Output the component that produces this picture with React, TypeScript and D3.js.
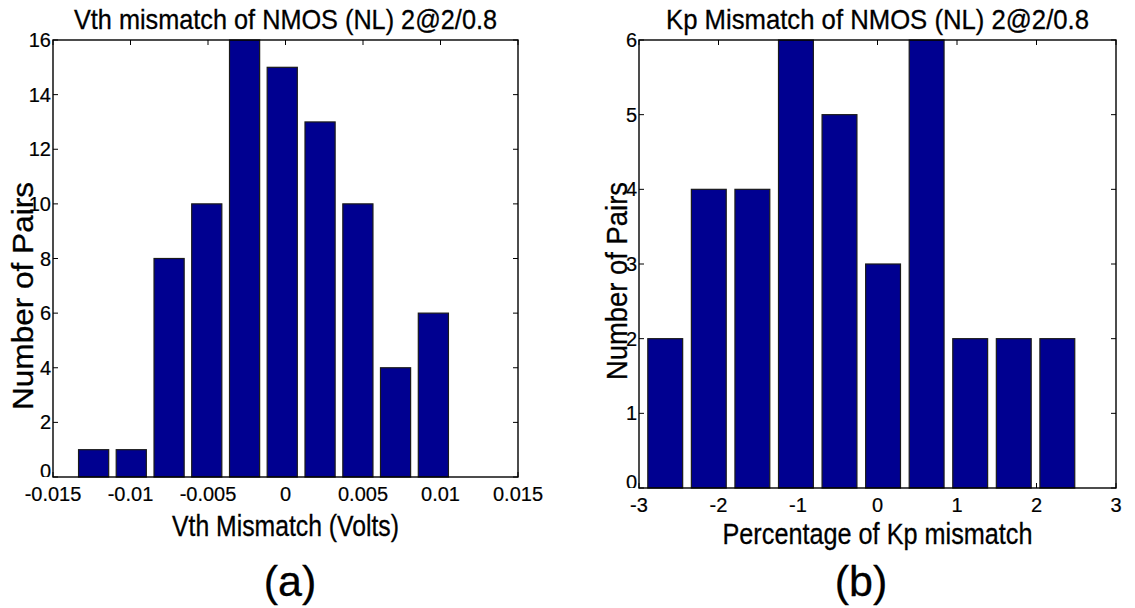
import React from "react";
import * as d3 from "d3";

// Histogram of threshold-voltage mismatch (bin centres in volts, counts of pairs)
const vthCenters = [-0.01238, -0.00995, -0.00751, -0.00508, -0.00264, -0.00021, 0.00223, 0.00467, 0.0071, 0.00954];
const vthCounts = [1, 1, 8, 10, 16, 15, 13, 10, 4, 6];
const vthXTicks = [-0.015, -0.01, -0.005, 0, 0.005, 0.01, 0.015];
const vthXTickLabels = ["-0.015", "-0.01", "-0.005", "0", "0.005", "0.01", "0.015"];
const vthYTicks = [0, 2, 4, 6, 8, 10, 12, 14, 16];

// Histogram of Kp mismatch (bin centres in percent, counts of pairs)
const kpCenters = [-2.67, -2.122, -1.574, -1.026, -0.478, 0.07, 0.618, 1.166, 1.714, 2.262];
const kpCounts = [2, 4, 4, 6, 5, 3, 6, 2, 2, 2];
const kpXTicks = [-3, -2, -1, 0, 1, 2, 3];
const kpXTickLabels = ["-3", "-2", "-1", "0", "1", "2", "3"];
const kpYTicks = [0, 1, 2, 3, 4, 5, 6];

const FONT = "'Liberation Sans', Arial, Helvetica, sans-serif";
const BAR_FILL = "#000090";
const TICK_LEN = 5;

type PanelProps = {
  id: string;
  centers: number[];
  counts: number[];
  xDomain: [number, number];
  yDomain: [number, number];
  xTicks: number[];
  xTickLabels: string[];
  yTicks: number[];
  box: { left: number; right: number; top: number; bottom: number };
  title: string;
  titleY: number;
  titleWidth: number;
  xLabel: string;
  xLabelY: number;
  xLabelWidth: number;
  yLabel: string;
  yLabelX: number;
  yLabelCenter: number;
  yLabelWidth: number;
  caption: string;
  captionX: number;
  captionY: number;
};

function Panel(p: PanelProps) {
  const { left, right, top, bottom } = p.box;
  const x = d3.scaleLinear().domain(p.xDomain).range([left, right]);
  const y = d3.scaleLinear().domain(p.yDomain).range([bottom, top]);
  const binW = (p.centers[1] - p.centers[0]) * 0.8;
  const cx = (left + right) / 2;
  return (
    <g>
      <defs>
        <clipPath id={`above-${p.id}`}>
          <rect x={0} y={0} width={1135} height={bottom} />
        </clipPath>
      </defs>
      {/* frame and ticks (drawn beneath the bars) */}
      <rect x={left} y={top} width={right - left} height={bottom - top} fill="#fff" />
      <g stroke="#000" strokeWidth={1}>
        {p.xTicks.map((t) => (
          <g key={`xt${t}`}>
            <line x1={x(t)} x2={x(t)} y1={bottom} y2={bottom - TICK_LEN} />
            <line x1={x(t)} x2={x(t)} y1={top} y2={top + TICK_LEN} />
          </g>
        ))}
        {p.yTicks.map((t) => (
          <g key={`yt${t}`}>
            <line x1={left} x2={left + TICK_LEN} y1={y(t)} y2={y(t)} />
            <line x1={right} x2={right - TICK_LEN} y1={y(t)} y2={y(t)} />
          </g>
        ))}
      </g>
      {/* histogram bars */}
      <g>
        {p.centers.map((c, i) => (
          <rect
            key={i}
            x={x(c - binW / 2)}
            y={y(p.counts[i])}
            width={x(c + binW / 2) - x(c - binW / 2)}
            height={y(0) - y(p.counts[i])}
            fill={BAR_FILL}
            stroke="#1a1a1a"
            strokeWidth={1.2}
          />
        ))}
      </g>
      <rect x={left} y={top} width={right - left} height={bottom - top} fill="none" stroke="#000" strokeWidth={1.4} />
      {/* tick labels */}
      <g fontFamily={FONT} fontSize={20} fill="#000" stroke="#000" strokeWidth={0.2}>
        {p.xTicks.map((t, i) => (
          <text key={`xl${t}`} x={x(t)} y={bottom + 24} textAnchor="middle">
            {p.xTickLabels[i]}
          </text>
        ))}
        <g clipPath={`url(#above-${p.id})`}>
          {p.yTicks.map((t) => (
            <text key={`yl${t}`} x={left - 2} y={t === 0 ? y(t) + 1 : y(t) + 7} textAnchor="end">
              {String(t)}
            </text>
          ))}
        </g>
      </g>
      {/* title and axis labels */}
      <g fontFamily={FONT} fill="#000" stroke="#000" strokeWidth={0.3}>
        <text x={cx} y={p.titleY} fontSize={28} textAnchor="middle" textLength={p.titleWidth} lengthAdjust="spacingAndGlyphs">
          {p.title}
        </text>
        <text x={cx} y={p.xLabelY} fontSize={30} textAnchor="middle" textLength={p.xLabelWidth} lengthAdjust="spacingAndGlyphs">
          {p.xLabel}
        </text>
        <text
          transform={`translate(${p.yLabelX},${p.yLabelCenter}) rotate(-90)`}
          fontSize={29}
          textAnchor="middle"
          textLength={p.yLabelWidth}
          lengthAdjust="spacingAndGlyphs"
        >
          {p.yLabel}
        </text>
        <text x={p.captionX} y={p.captionY} fontSize={43} textAnchor="middle">
          {p.caption}
        </text>
      </g>
    </g>
  );
}

export default function App() {
  return (
    <svg
      width={1135}
      height={608}
      viewBox="0 0 1135 608"
      style={{ position: "absolute", left: 0, top: 0, background: "#fff" }}
    >
      <rect x={0} y={0} width={1135} height={608} fill="#fff" />
      <Panel
        id="vth"
        centers={vthCenters}
        counts={vthCounts}
        xDomain={[-0.015, 0.015]}
        yDomain={[0, 16]}
        xTicks={vthXTicks}
        xTickLabels={vthXTickLabels}
        yTicks={vthYTicks}
        box={{ left: 53, right: 518, top: 40, bottom: 477 }}
        title="Vth mismatch of NMOS (NL) 2@2/0.8"
        titleY={29}
        titleWidth={423}
        xLabel="Vth Mismatch (Volts)"
        xLabelY={536}
        xLabelWidth={227}
        yLabel="Number of Pairs"
        yLabelX={33}
        yLabelCenter={296}
        yLabelWidth={228}
        caption="(a)"
        captionX={290}
        captionY={596}
      />
      <Panel
        id="kp"
        centers={kpCenters}
        counts={kpCounts}
        xDomain={[-3, 3]}
        yDomain={[0, 6]}
        xTicks={kpXTicks}
        xTickLabels={kpXTickLabels}
        yTicks={kpYTicks}
        box={{ left: 639, right: 1116, top: 40, bottom: 488 }}
        title="Kp Mismatch of NMOS (NL) 2@2/0.8"
        titleY={29}
        titleWidth={423}
        xLabel="Percentage of Kp mismatch"
        xLabelY={544}
        xLabelWidth={310}
        yLabel="Number of Pairs"
        yLabelX={627}
        yLabelCenter={281}
        yLabelWidth={198}
        caption="(b)"
        captionX={861}
        captionY={596}
      />
    </svg>
  );
}
